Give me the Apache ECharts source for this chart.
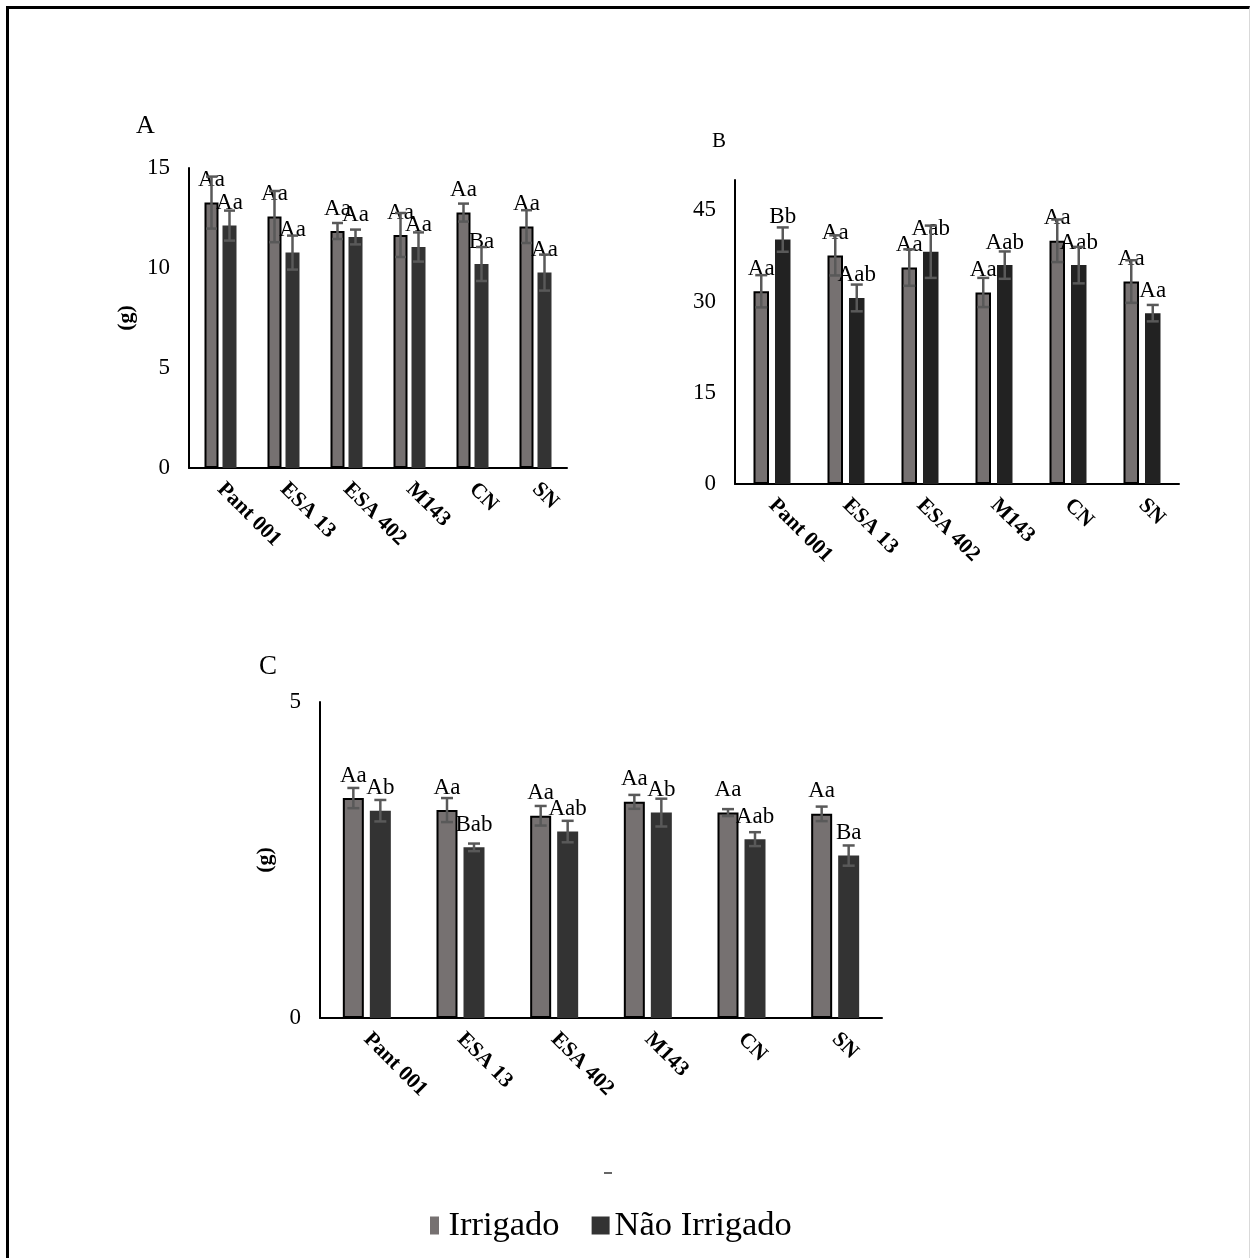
<!DOCTYPE html>
<html>
<head>
<meta charset="utf-8">
<script src="https://cdn.jsdelivr.net/npm/echarts@6/dist/echarts.min.js"></script>
<style>
  html, body { margin: 0; padding: 0; background: #fff; }
  #wrap { position: relative; width: 1250px; height: 1258px; overflow: hidden; }
  #chart { position: absolute; left: 0; top: 0; width: 1250px; height: 1258px; }
  #frame { position: absolute; left: 6px; top: 6px; width: 1240px; height: 1300px;
           border-left: 3px solid #000; border-top: 3px solid #000; border-right: 1px solid #d9d9d9;
           pointer-events: none; }
</style>
</head>
<body>
<div id="wrap"><div id="chart"></div><div id="frame"></div></div>
<script>
// Genotypes on the category axis
const categories = ['Pant 001', 'ESA 13', 'ESA 402', 'M143', 'CN', 'SN'];

// Panel A – means (g), standard errors and mean-comparison letters
const massA_irr = [13.27, 12.57, 11.85, 11.65, 12.77, 12.07];
const errA_irr  = [1.30, 1.28, 0.40, 1.10, 0.45, 0.82];
const massA_ni  = [12.12, 10.77, 11.55, 11.05, 10.20, 9.77];
const errA_ni   = [0.75, 0.85, 0.37, 0.73, 0.85, 0.90];
const lettersA_irr = ['Aa', 'Aa', 'Aa', 'Aa', 'Aa', 'Aa'];
const lettersA_ni  = ['Aa', 'Aa', 'Aa', 'Aa', 'Ba', 'Aa'];

// Panel B
const massB_irr = [31.7, 37.6, 35.6, 31.5, 40.0, 33.3];
const errB_irr  = [2.65, 3.3, 3.0, 2.4, 3.5, 3.5];
const massB_ni  = [40.2, 30.6, 38.2, 36.0, 36.0, 28.1];
const errB_ni   = [2.0, 2.2, 4.3, 2.25, 3.0, 1.35];
const lettersB_irr = ['Aa', 'Aa', 'Aa', 'Aa', 'Aa', 'Aa'];
const lettersB_ni  = ['Bb', 'Aab', 'Aab', 'Aab', 'Aab', 'Aa'];

// Panel C
const massC_irr = [3.48, 3.29, 3.20, 3.42, 3.25, 3.23];
const errC_irr  = [0.16, 0.19, 0.155, 0.11, 0.055, 0.115];
const massC_ni  = [3.28, 2.70, 2.95, 3.25, 2.83, 2.57];
const errC_ni   = [0.17, 0.06, 0.17, 0.22, 0.11, 0.16];
const lettersC_irr = ['Aa', 'Aa', 'Aa', 'Aa', 'Aa', 'Aa'];
const lettersC_ni  = ['Ab', 'Bab', 'Aab', 'Ab', 'Aab', 'Ba'];

// Value-axis ranges (min, max, tick step)
const yRangeA = [0, 15, 5];
const yRangeB = [0, 50, 15];
const yRangeC = [0, 5, 5];

const seriesNames = ['Irrigado', 'Não Irrigado'];

const SERIF = 'Liberation Serif, Times New Roman, serif';
const IRR_COLOR = '#767171';
const ERR_COLOR = '#595959';

const panels = [
  { title: 'A', titlePos: { left: 136, top: 113 }, titleSize: 26,
    grid: { left: 189, top: 168, width: 378, height: 300 },
    range: yRangeA, yName: '(g)', nameGap: 52,
    irr: massA_irr, irrErr: errA_irr, ni: massA_ni, niErr: errA_ni,
    irrLetters: lettersA_irr, niLetters: lettersA_ni,
    barW: 14, gap: 4, niColor: '#333333', cap: 11 },
  { title: 'B', titlePos: { left: 712, top: 131 }, titleSize: 21,
    grid: { left: 735, top: 180, width: 444, height: 304 },
    range: yRangeB, yName: '', nameGap: 0,
    irr: massB_irr, irrErr: errB_irr, ni: massB_ni, niErr: errB_ni,
    irrLetters: lettersB_irr, niLetters: lettersB_ni,
    barW: 15.5, gap: 6, niColor: '#222222', cap: 12 },
  { title: 'C', titlePos: { left: 259, top: 653 }, titleSize: 27,
    grid: { left: 320, top: 702, width: 562, height: 316 },
    range: yRangeC, yName: '(g)', nameGap: 44,
    irr: massC_irr, irrErr: errC_irr, ni: massC_ni, niErr: errC_ni,
    irrLetters: lettersC_irr, niLetters: lettersC_ni,
    barW: 21, gap: 6, niColor: '#333333', cap: 12 }
];

function errorBarSeries(panelIdx, means, errs, offset, cap) {
  return {
    type: 'custom',
    name: 'err-' + panelIdx + '-' + offset,
    xAxisIndex: panelIdx,
    yAxisIndex: panelIdx,
    silent: true,
    z: 5,
    encode: { x: 0, y: [1, 2] },
    data: means.map((m, k) => [k, m - errs[k], m + errs[k]]),
    renderItem: function (params, api) {
      const lo = api.coord([api.value(0), api.value(1)]);
      const hi = api.coord([api.value(0), api.value(2)]);
      const x = lo[0] + offset;
      const style = { stroke: ERR_COLOR, lineWidth: 2.5 };
      return {
        type: 'group',
        children: [
          { type: 'line', shape: { x1: x, y1: lo[1], x2: x, y2: hi[1] }, style: style },
          { type: 'line', shape: { x1: x - cap / 2, y1: hi[1], x2: x + cap / 2, y2: hi[1] }, style: style },
          { type: 'line', shape: { x1: x - cap / 2, y1: lo[1], x2: x + cap / 2, y2: lo[1] }, style: style }
        ]
      };
    }
  };
}

function letterLabel(letters) {
  return {
    show: true,
    position: 'top',
    distance: 11,
    color: '#000',
    fontFamily: SERIF,
    fontSize: 23,
    formatter: p => letters[p.dataIndex]
  };
}

const option = {
  backgroundColor: '#fff',
  animation: false,
  title: panels.map(p => ({
    text: p.title, left: p.titlePos.left, top: p.titlePos.top, padding: 0,
    textStyle: { fontFamily: SERIF, fontWeight: 'normal', fontSize: p.titleSize, color: '#000' }
  })),
  grid: panels.map(p => Object.assign({ containLabel: false }, p.grid)),
  xAxis: panels.map((p, i) => ({
    type: 'category', gridIndex: i, data: categories,
    axisTick: { show: false },
    axisLine: { lineStyle: { color: '#000', width: 2 } },
    axisLabel: { interval: 0, rotate: -45, margin: 18, color: '#000',
                 fontFamily: SERIF, fontWeight: 'bold', fontSize: 21.5 }
  })),
  yAxis: panels.map((p, i) => ({
    type: 'value', gridIndex: i,
    min: p.range[0], max: p.range[1], interval: p.range[2],
    name: p.yName, nameLocation: 'middle', nameRotate: 90, nameGap: p.nameGap,
    nameTextStyle: { fontFamily: SERIF, fontWeight: 'bold', fontSize: 22, color: '#000' },
    splitLine: { show: false },
    axisTick: { show: false },
    axisLine: { show: true, lineStyle: { color: '#000', width: 2 } },
    axisLabel: { color: '#000', fontFamily: SERIF, fontSize: 23, margin: 19,
                 showMaxLabel: p.range[1] % p.range[2] === 0 }
  })),
  legend: {
    left: 425, top: 1203,
    selectedMode: false,
    itemWidth: 18, itemHeight: 18, itemGap: 32,
    itemStyle: { borderWidth: 0 },
    textStyle: { fontFamily: SERIF, fontSize: 34.5, color: '#000' },
    data: [
      { name: seriesNames[0], icon: 'path://M0,0H10V20H0Z' },
      { name: seriesNames[1], icon: 'rect' }
    ]
  },
  graphic: [
    { type: 'rect', left: 604, top: 1172, shape: { width: 8, height: 2 }, style: { fill: '#666' } }
  ],
  series: []
};

panels.forEach((p, i) => {
  const off = (p.barW + p.gap) / 2;
  const gapPct = (p.gap / p.barW * 100).toFixed(1) + '%';
  option.series.push({
    type: 'bar', name: seriesNames[0], xAxisIndex: i, yAxisIndex: i,
    data: p.irr, barWidth: p.barW, barGap: gapPct,
    itemStyle: { color: IRR_COLOR, borderColor: '#000', borderWidth: 2 },
    label: letterLabel(p.irrLetters)
  });
  option.series.push({
    type: 'bar', name: seriesNames[1], xAxisIndex: i, yAxisIndex: i,
    data: p.ni, barWidth: p.barW, barGap: gapPct,
    itemStyle: { color: p.niColor },
    label: letterLabel(p.niLetters)
  });
  option.series.push(errorBarSeries(i, p.irr, p.irrErr, -off, p.cap));
  option.series.push(errorBarSeries(i, p.ni, p.niErr, off, p.cap));
});

const chart = echarts.init(document.getElementById('chart'), null, { renderer: 'canvas' });
chart.setOption(option);
</script>
</body>
</html>
